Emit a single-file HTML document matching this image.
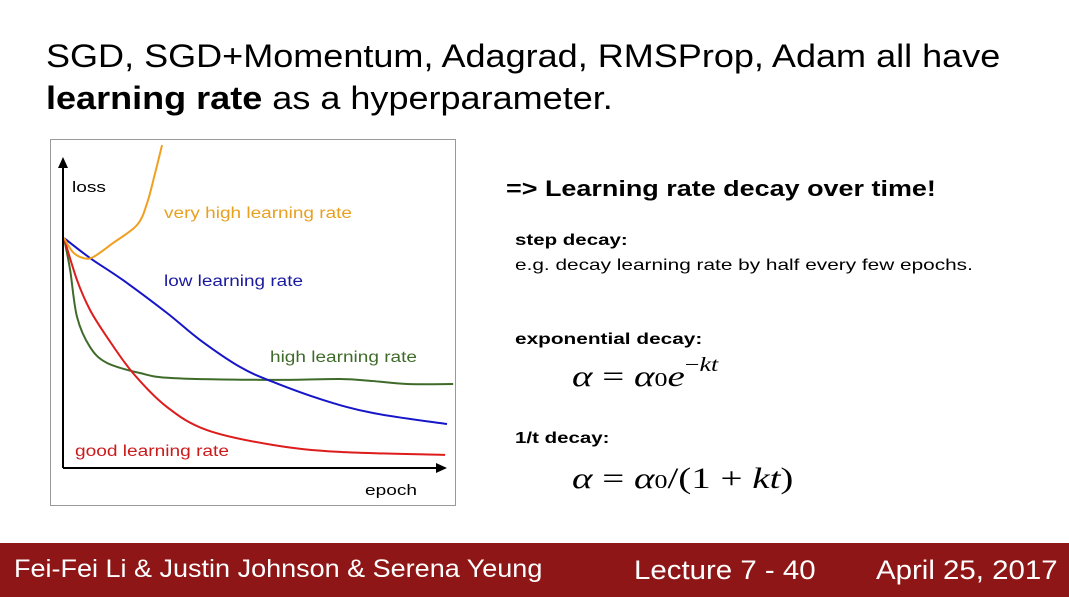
<!DOCTYPE html>
<html><head><meta charset="utf-8"><style>
body{margin:0;width:1069px;height:597px;background:#fff;position:relative;overflow:hidden;font-family:"Liberation Sans",sans-serif}
.t{position:absolute;white-space:nowrap;transform-origin:0 0}
.m{font-family:"Liberation Serif",serif;font-size:30px;position:absolute;white-space:nowrap;transform-origin:0 0;transform:scaleX(1.3)}
</style></head><body>
<div class="t" style="left:46px;top:38px;font-size:32px;transform:scaleX(1.126)">SGD, SGD+Momentum, Adagrad, RMSProp, Adam all have</div>
<div class="t" style="left:46px;top:80px;font-size:32px;transform:scaleX(1.126)"><b>learning rate</b> as a hyperparameter.</div>
<svg style="position:absolute;left:0;top:0" width="1069" height="597">
<rect x="50.5" y="139.5" width="405" height="366" fill="#fff" stroke="#999"/>
<g id="curves"></g>
<line x1="63" y1="468" x2="63" y2="165" stroke="#000" stroke-width="2"/>
<polygon points="58,168 63,157 68,168" fill="#000"/>
<line x1="63" y1="468" x2="438" y2="468" stroke="#000" stroke-width="2"/>
<polygon points="436,463 447,468 436,473" fill="#000"/>
<text x="72" y="192" font-size="15" textLength="34" lengthAdjust="spacingAndGlyphs">loss</text>
<text x="365" y="495" font-size="15" textLength="52" lengthAdjust="spacingAndGlyphs">epoch</text>
<text x="164" y="218" font-size="15.5" fill="#e8a020" textLength="188" lengthAdjust="spacingAndGlyphs">very high learning rate</text>
<text x="164" y="286" font-size="15.5" fill="#1a1aa0" textLength="139" lengthAdjust="spacingAndGlyphs">low learning rate</text>
<text x="270" y="362" font-size="15.5" fill="#3f6b2a" textLength="147" lengthAdjust="spacingAndGlyphs">high learning rate</text>
<text x="75" y="456" font-size="15.5" fill="#cc1a1a" textLength="154" lengthAdjust="spacingAndGlyphs">good learning rate</text>
</svg>
<div class="t" style="left:506px;top:176px;font-size:22px;font-weight:bold;transform:scaleX(1.225)">=&gt; Learning rate decay over time!</div>
<div class="t" style="left:515px;top:232px;font-size:16px;font-weight:bold;transform:scaleX(1.28)">step decay:</div>
<div class="t" style="left:515px;top:257px;font-size:16px;transform:scaleX(1.3)">e.g. decay learning rate by half every few epochs.</div>
<div class="t" style="left:515px;top:331px;font-size:16px;font-weight:bold;transform:scaleX(1.3)">exponential decay:</div>
<div class="m" style="left:572px;top:358px"><i>α</i> = <i>α</i><span style="font-size:20px">0</span><i>e</i><sup style="font-size:20px;position:relative;top:-4px">−<i>kt</i></sup></div>
<div class="t" style="left:515px;top:430px;font-size:16px;font-weight:bold;transform:scaleX(1.28)">1/t decay:</div>
<div class="m" style="left:572px;top:462px"><i>α</i> = <i>α</i><span style="font-size:20px">0</span>/(1 + <i>kt</i>)</div>
<div style="position:absolute;left:0;top:543px;width:1069px;height:54px;background:#8f1616"></div>
<div class="t" style="left:14px;top:555px;font-size:25px;color:#fff;transform:scaleX(1.08)">Fei-Fei Li &amp; Justin Johnson &amp; Serena Yeung</div>
<div class="t" style="left:634px;top:555px;font-size:27px;color:#fff;transform:scaleX(1.09)">Lecture 7 - 40</div>
<div class="t" style="left:876px;top:555px;font-size:27px;color:#fff;transform:scaleX(1.09)">April 25, 2017</div>
<script>
const blueEpoch=[0,6.8,15.4,26.9,35.5,46,54.6,67.6,80.7,100];
const blueLoss=[100,91.3,81.7,67.4,55.7,43.9,37.4,29.6,23.9,19.1];
const redEpoch=[0,3.4,6.8,11.2,18,26.9,37.3,54.6,72,99.5];
const redLoss=[100,81.7,68.7,57,41.3,26.5,16.5,10,7,5.7];
const greenEpoch=[0,1.6,3.4,6.8,11.2,19.8,28.5,54.6,72,80.7,89.6,101.6];
const greenLoss=[100,86.1,65.7,52.6,45.7,41.3,39.1,38.3,38.7,37.8,36.5,36.5];
const orangeEpoch=[0,2.3,5,7.6,12.8,19.1,21.7,23.8,25.6];
const orangeLoss=[100,93.9,91.3,91.7,97.8,105.7,115.2,128.3,140.4];
const xs=e=>64+e*3.83, ys=l=>468-l*2.3;
function path(E,L){const p=E.map((e,i)=>[xs(e),ys(L[i])]);let d='M'+p[0];
for(let i=0;i<p.length-1;i++){const a=p[i-1]||p[i],b=p[i],c=p[i+1],n=p[i+2]||c;
d+=' C'+(b[0]+(c[0]-a[0])/6)+','+(b[1]+(c[1]-a[1])/6)+' '+(c[0]-(n[0]-b[0])/6)+','+(c[1]-(n[1]-b[1])/6)+' '+c;}return d;}
const g=document.getElementById('curves');
[[greenEpoch,greenLoss,'#3f6b2a','series-high-lr'],[redEpoch,redLoss,'#dd1c1c','series-good-lr'],[blueEpoch,blueLoss,'#1616c8','series-low-lr'],[orangeEpoch,orangeLoss,'#f0a020','series-very-high-lr']].forEach(s=>{
const el=document.createElementNS('http://www.w3.org/2000/svg','path');
el.setAttribute('d',path(s[0],s[1]));el.setAttribute('fill','none');el.setAttribute('stroke',s[2]);el.setAttribute('stroke-width','2');


g.appendChild(el);});
</script>
</body></html>
